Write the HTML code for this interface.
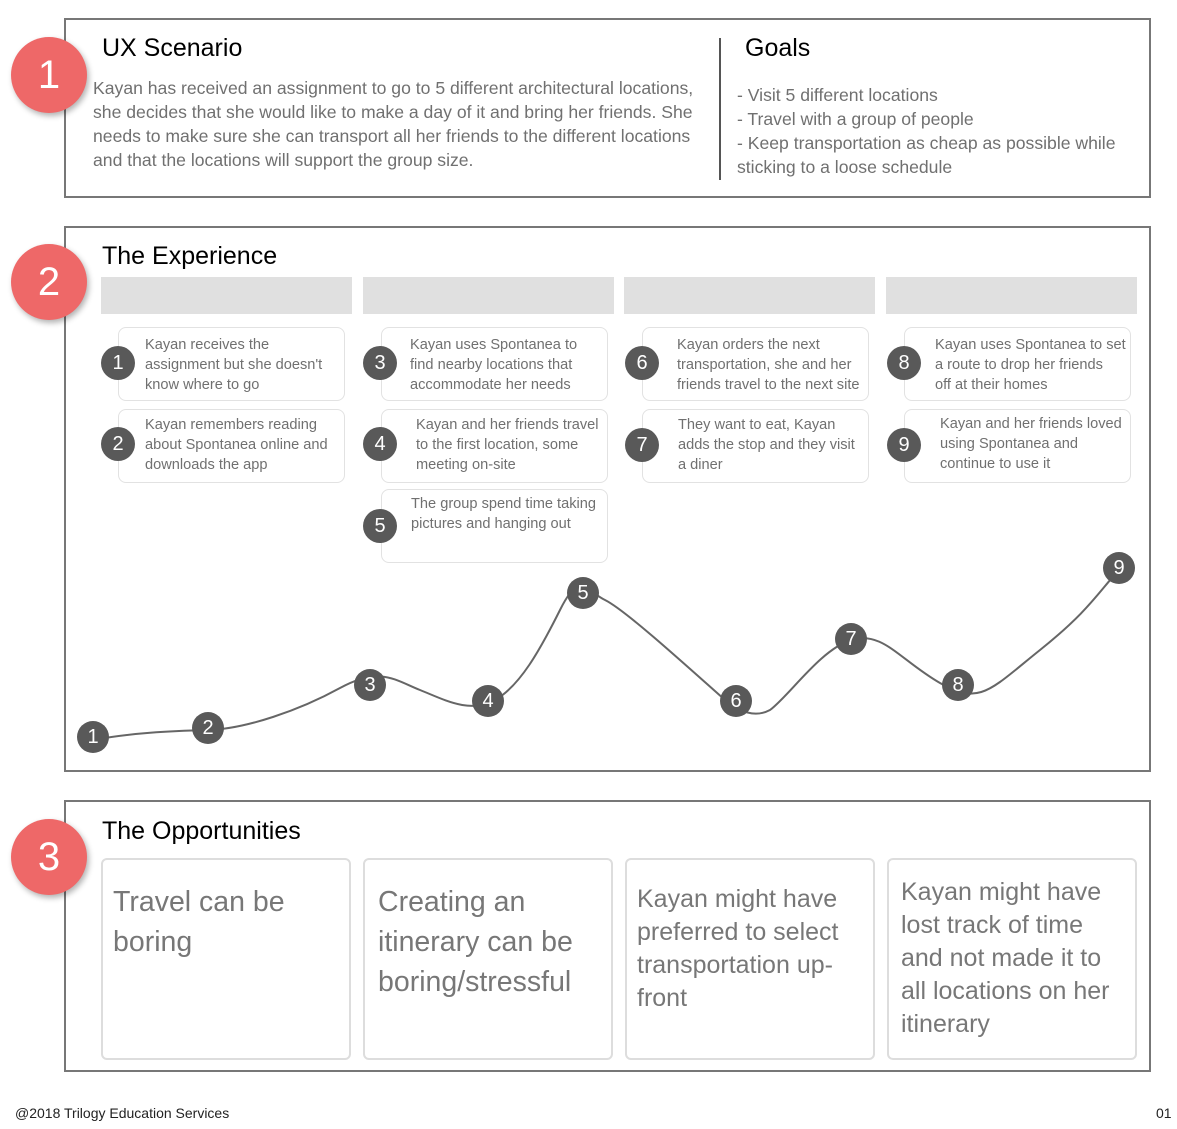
<!DOCTYPE html>
<html><head><meta charset="utf-8"><style>
*{margin:0;padding:0;box-sizing:border-box}
body{width:1177px;height:1129px;background:#fff;position:relative;font-family:"Liberation Sans",sans-serif;overflow:hidden}
.a{position:absolute}
.box{position:absolute;border:2px solid #777;background:#fff}
.red{position:absolute;width:76px;height:76px;border-radius:50%;background:#ee6868;color:#fff;font-size:40px;text-align:center;line-height:76px;box-shadow:2px 3px 6px rgba(0,0,0,.3)}
.h{position:absolute;font-size:25px;color:#000}
.p{position:absolute;font-size:17.6px;line-height:24px;color:#707070;white-space:nowrap}
.bar{position:absolute;top:277px;height:37px;width:251px;background:#e0e0e0}
.card{position:absolute;border:1px solid #e2e2e2;border-radius:8px;background:#fff;width:227px;height:74px;font-size:14.6px;line-height:20px;color:#707070;padding:7px 0 0 26px;white-space:nowrap}
.dot{position:absolute;width:34px;height:34px;border-radius:50%;background:#595959;color:#fff;font-size:20px;text-align:center;line-height:34px}
.n{position:absolute;width:32px;height:32px;border-radius:50%;background:#595959;color:#fff;font-size:20px;text-align:center;line-height:32px}
.op{position:absolute;top:858px;height:202px;width:250px;border:2px solid #ddd;border-radius:6px;color:#777;font-size:28.5px;padding:0 0 0 10px;white-space:nowrap}
</style></head><body>
<div class="box" style="left:64px;top:18px;width:1087px;height:180px"></div>
<div class="box" style="left:64px;top:226px;width:1087px;height:546px"></div>
<div class="box" style="left:64px;top:800px;width:1087px;height:272px"></div>
<div class="red" style="left:11px;top:37px">1</div>
<div class="red" style="left:11px;top:244px">2</div>
<div class="red" style="left:11px;top:819px">3</div>

<div class="h" style="left:102px;top:34px">UX Scenario</div>
<div class="p" style="left:93px;top:76px">Kayan has received an assignment to go to 5 different architectural locations,<br>she decides that she would like to make a day of it and bring her friends. She<br>needs to make sure she can transport all her friends to the different locations<br>and that the locations will support the group size.</div>
<div class="a" style="left:719px;top:38px;width:2px;height:142px;background:#555"></div>
<div class="h" style="left:745px;top:34px">Goals</div>
<div class="p" style="left:737px;top:83px">- Visit 5 different locations<br>- Travel with a group of people<br>- Keep transportation as cheap as possible while<br>sticking to a loose schedule</div>

<div class="h" style="left:102px;top:242px">The Experience</div>
<div class="bar" style="left:101px"></div><div class="bar" style="left:363px"></div><div class="bar" style="left:624px"></div><div class="bar" style="left:886px"></div>

<div class="card" style="left:118px;top:327px">Kayan receives the<br>assignment but she doesn't<br>know where to go</div>
<div class="card" style="left:118px;top:409px;padding-top:5px">Kayan remembers reading<br>about Spontanea online and<br>downloads the app</div>
<div class="card" style="left:381px;top:327px;padding-left:28px">Kayan uses Spontanea to<br>find nearby locations that<br>accommodate her needs</div>
<div class="card" style="left:381px;top:409px;padding-left:34px;padding-top:5px">Kayan and her friends travel<br>to the first location, some<br>meeting on-site</div>
<div class="card" style="left:381px;top:489px;padding-left:29px;padding-top:4px">The group spend time taking<br>pictures and hanging out</div>
<div class="card" style="left:642px;top:327px;padding-left:34px">Kayan orders the next<br>transportation, she and her<br>friends travel to the next site</div>
<div class="card" style="left:642px;top:409px;padding-left:35px;padding-top:5px">They want to eat, Kayan<br>adds the stop and they visit<br>a diner</div>
<div class="card" style="left:904px;top:327px;padding-left:30px">Kayan uses Spontanea to set<br>a route to drop her friends<br>off at their homes</div>
<div class="card" style="left:904px;top:409px;padding-left:35px;padding-top:4px">Kayan and her friends loved<br>using Spontanea and<br>continue to use it</div>

<div class="dot" style="left:101px;top:346px">1</div>
<div class="dot" style="left:101px;top:427px">2</div>
<div class="dot" style="left:363px;top:346px">3</div>
<div class="dot" style="left:363px;top:427px">4</div>
<div class="dot" style="left:363px;top:509px">5</div>
<div class="dot" style="left:625px;top:346px">6</div>
<div class="dot" style="left:625px;top:428px">7</div>
<div class="dot" style="left:887px;top:346px">8</div>
<div class="dot" style="left:887px;top:428px">9</div>

<svg class="a" style="left:0;top:0" width="1177" height="1129"><path d="M93,740 C130,733 170,731 208,730 S300,710 340,688 S395,680 420,690 S470,714 495,700 S540,650 560,610 S585,590 605,600 S680,660 725,700 C740,712 755,718 770,710 C790,695 820,650 851,640 S900,660 940,683 S990,690 1040,650 S1100,590 1119,570" fill="none" stroke="#666" stroke-width="2"/></svg>
<div class="n" style="left:77px;top:721px">1</div>
<div class="n" style="left:192px;top:712px">2</div>
<div class="n" style="left:354px;top:669px">3</div>
<div class="n" style="left:472px;top:685px">4</div>
<div class="n" style="left:567px;top:577px">5</div>
<div class="n" style="left:720px;top:685px">6</div>
<div class="n" style="left:835px;top:623px">7</div>
<div class="n" style="left:942px;top:669px">8</div>
<div class="n" style="left:1103px;top:552px">9</div>

<div class="h" style="left:102px;top:817px">The Opportunities</div>
<div class="op" style="left:101px;line-height:40px;padding-top:22px">Travel can be<br>boring</div>
<div class="op" style="left:363px;line-height:40px;padding-top:22px;padding-left:13px">Creating an<br>itinerary can be<br>boring/stressful</div>
<div class="op" style="left:625px;line-height:33px;padding-top:23px;font-size:25px">Kayan might have<br>preferred to select<br>transportation up-<br>front</div>
<div class="op" style="left:887px;line-height:33px;padding-top:16px;padding-left:12px;font-size:25px">Kayan might have<br>lost track of time<br>and not made it to<br>all locations on her<br>itinerary</div>

<div class="a" style="left:15px;top:1105px;font-size:14px;color:#222">@2018 Trilogy Education Services</div>
<div class="a" style="left:1156px;top:1105px;font-size:14px;color:#222">01</div>
</body></html>
